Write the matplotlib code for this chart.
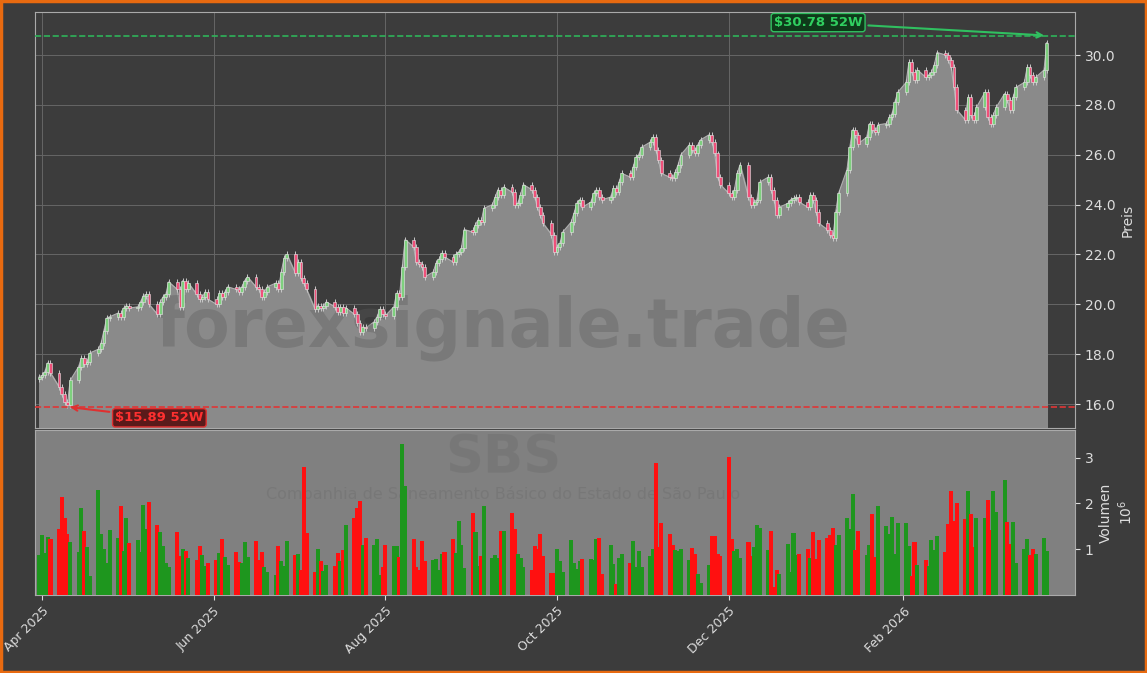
import numpy as np
import pandas as pd
import matplotlib
matplotlib.use("Agg")
import matplotlib.pyplot as plt
import matplotlib.dates as mdates

closes = [
 17.1,17.15,17.3,17.65,17.25,16.7,16.4,16.1,15.95,16.95,17.5,17.85,17.6,17.7,18.05,18.2,18.45,18.95,19.45,19.5,19.65,19.5,19.85,
 19.95,19.85,19.9,20.1,20.35,20.4,20.0,19.6,20.1,20.3,20.4,20.9,20.6,19.9,20.95,20.6,20.85,20.4,20.2,20.3,20.5,
 20.2,20.0,20.45,20.3,20.5,20.7,20.6,20.5,20.7,20.95,21.1,20.7,20.6,20.3,20.5,20.7,20.85,20.6,21.3,21.85,22.0,
 21.25,21.7,21.05,20.85,20.6,19.8,19.95,19.85,19.95,20.1,19.9,19.7,19.9,19.65,19.85,19.6,19.25,18.9,19.1,19.05,19.3,19.5,
 19.8,19.6,19.55,19.9,20.45,20.3,21.5,22.6,22.3,21.7,21.6,21.5,21.1,21.3,21.65,21.8,22.05,21.9,21.7,22.0,22.1,
 22.25,23.0,22.9,23.2,23.4,23.3,23.85,24.0,24.3,24.6,24.4,24.7,24.5,24.0,24.05,24.4,24.8,24.6,24.3,23.9,23.6,23.25,
 22.8,22.1,22.3,22.45,22.9,23.3,23.65,24.05,24.2,23.9,24.1,24.45,24.6,24.3,24.2,24.3,24.65,24.5,24.9,25.25,25.1,25.5,
 25.9,26.0,26.3,26.5,26.7,26.2,25.8,25.25,25.1,25.05,25.3,25.6,26.0,26.4,26.2,26.05,26.4,26.6,26.8,26.5,
 26.05,25.1,24.8,24.45,24.3,24.6,25.25,25.6,24.3,24.0,24.1,24.2,24.9,25.1,24.6,24.2,23.6,23.9,24.05,24.2,24.25,24.3,
 24.1,23.9,24.4,24.2,23.7,23.25,23.0,22.8,22.65,23.7,24.45,25.4,26.3,27.0,26.8,26.45,26.7,27.25,27.0,26.9,27.2,
 27.25,27.5,27.65,28.1,28.5,28.9,29.7,29.3,29.0,29.4,29.1,29.2,29.3,29.6,30.1,30.0,29.8,29.5,28.7,27.8,
 27.4,28.3,27.6,27.4,27.9,28.5,27.5,27.25,27.6,27.9,28.45,28.2,27.8,28.3,28.7,28.9,29.5,29.2,28.9,29.1,29.4,30.5,
]
volumes = [
 0.87,1.30,0.91,1.27,1.23,1.44,2.14,1.67,1.34,1.16,0.94,1.89,1.39,1.05,0.42,2.30,1.34,1.01,0.70,1.41,1.25,1.94,0.96,1.69,1.14,
 1.20,0.94,1.96,1.44,2.03,1.52,1.38,1.07,0.69,0.62,1.38,0.85,1.01,0.96,0.80,0.76,1.07,0.87,0.63,0.70,0.76,0.92,1.23,0.83,0.65,
 0.94,0.72,0.69,1.16,0.83,1.17,0.76,0.94,0.62,0.51,0.44,1.07,0.75,0.63,1.17,0.87,0.89,0.54,2.80,1.36,0.51,1.01,0.75,0.53,0.65,
 0.63,0.91,0.75,0.98,1.52,1.67,1.89,2.04,1.09,1.25,
 1.09,1.23,0.44,0.62,1.09,1.07,1.07,0.83,3.30,2.37,1.23,0.62,0.54,1.17,0.74,0.76,0.78,0.54,0.89,0.93,1.23,0.91,1.62,1.09,0.58,
 1.78,1.38,0.63,0.85,1.94,0.80,0.87,0.81,1.39,1.39,1.79,1.45,0.89,0.80,0.62,0.54,1.07,1.01,1.33,0.85,0.47,0.47,1.01,0.75,0.51,
 1.21,0.69,0.56,0.74,0.78,0.78,0.76,1.23,1.25,0.46,1.09,0.67,0.24,0.80,0.89,0.70,1.17,0.62,0.96,0.62,0.85,1.01,2.88,1.05,1.57,
 1.34,1.09,0.99,0.96,1.01,0.76,1.03,0.89,0.46,0.26,0.65,1.28,
 1.28,0.89,0.85,3.01,1.22,0.96,1.00,0.81,1.15,0.85,1.05,1.52,1.46,0.98,1.39,0.18,0.54,0.46,1.11,0.51,1.36,0.87,0.89,1.00,0.80,
 1.38,0.78,1.20,1.25,1.30,1.46,1.09,1.30,1.69,1.44,2.20,0.98,1.39,0.87,1.10,1.76,0.83,1.94,1.50,1.33,1.70,0.89,1.56,1.56,1.07,
 0.41,1.15,0.65,0.76,0.63,1.21,0.99,1.28,0.94,1.54,2.26,1.62,2.01,1.65,2.28,1.76,1.04,1.67,1.69,2.07,1.41,2.26,1.81,2.52,1.59,
 1.11,1.59,0.69,1.00,1.22,0.87,1.0,0.9,1.25,0.95,
]
first_open = 17.0
low_52w = 15.89
high_52w = 30.78
month_ticks = ["2025-04-01", "2025-06-01", "2025-08-01", "2025-10-01", "2025-12-01", "2026-02-01"]

n = min(len(closes), len(volumes))
closes = np.array(closes[:n]); volumes = np.array(volumes[:n])
dates = pd.bdate_range("2025-03-31", periods=n)
x = mdates.date2num(dates)
opens = np.concatenate([[first_open], closes[:-1]])
up = closes >= opens

BG = "#3c3c3c"
fig = plt.figure(figsize=(11.47, 6.73), dpi=100, facecolor=BG)
fig.patches.append(plt.Rectangle((0.001, 0.001), 0.998, 0.998, transform=fig.transFigure,
                                 fill=False, edgecolor="#e86a10", linewidth=2.5))
ax = fig.add_axes([0.0305, 0.364, 0.9067, 0.618], facecolor=BG)
axv = fig.add_axes([0.0305, 0.116, 0.9067, 0.245], facecolor="#808080", sharex=ax)

ymin = 15.04
ax.fill_between(x, closes, ymin, color="#8a8a8a", zorder=1)
ax.plot(x, closes, color="#b0b0b0", lw=0.8, zorder=2)
w = 1.0
for xi, o, c, u in zip(x, opens, closes, up):
    col = "#7ed07e" if u else "#f0507a"
    lo, hi = min(o, c), max(o, c)
    ax.vlines(xi, lo - 0.12, hi + 0.12, color="#c8c8c8", lw=0.7, zorder=3)
    ax.bar(xi, max(hi - lo, 0.04), bottom=lo, width=w, color=col, edgecolor="#e8e8e8",
           linewidth=0.4, zorder=4)

ax.axhline(low_52w, color="#e03535", ls="--", lw=1.2, zorder=5)
ax.axhline(high_52w, color="#2eb35a", ls="--", lw=1.2, zorder=5)
imin = int(np.argmin(closes)); imax = n - 1
ax.annotate(f"${low_52w:.2f} 52W", xy=(x[imin], low_52w), xytext=(x[imin] + 17, 15.45),
            color="#ff3030", fontsize=9.5, fontweight="bold", va="center",
            bbox=dict(boxstyle="round,pad=0.2", fc="#5a1a1a", ec="#e03030"),
            arrowprops=dict(arrowstyle="->", color="#e03030", lw=1.5), zorder=6)
ax.annotate(f"${high_52w:.2f} 52W", xy=(x[imax], high_52w), xytext=(x[imax] - 97, 31.3),
            color="#30d060", fontsize=9.5, fontweight="bold", va="center",
            bbox=dict(boxstyle="round,pad=0.2", fc="#0f3a1a", ec="#30c060"),
            arrowprops=dict(arrowstyle="->", color="#30c060", lw=1.5), zorder=6)

ax.text(0.45, 0.24, "forexsignale.trade", transform=ax.transAxes, fontsize=48, fontweight="bold",
        color="#5a5a5a", alpha=0.35, ha="center", va="center", zorder=2)
axv.text(0.45, 0.83, "SBS", transform=axv.transAxes, fontsize=38, fontweight="bold",
         color="#707070", alpha=0.5, ha="center", va="center", zorder=1)
axv.text(0.45, 0.61, "Companhia de Saneamento Básico do Estado de São Paulo", transform=axv.transAxes,
         fontsize=11.5, color="#707070", alpha=0.5, ha="center", va="center", zorder=1)

ax.set_ylim(ymin, 31.72)
ax.set_xlim(x[0] - 1.5, x[-1] + 10)
ax.yaxis.tick_right(); ax.yaxis.set_label_position("right")
ax.set_yticks(np.arange(16, 31, 2))
ax.yaxis.set_major_formatter(matplotlib.ticker.FormatStrFormatter("%.1f"))
ax.set_ylabel("Preis", color="#dddddd", fontsize=10)
ax.tick_params(colors="#dddddd", labelbottom=False, bottom=False, labelsize=10)
ax.grid(True, color="#666666", lw=0.7)
ax.set_axisbelow(True)

vcol = np.where(up, "#1e961e", "#ff1010")
axv.bar(x, volumes, width=1.45, color=vcol, zorder=3)
axv.set_ylim(0, 3.6)
axv.yaxis.tick_right(); axv.yaxis.set_label_position("right")
axv.set_yticks([1, 2, 3])
axv.set_ylabel("Volumen\n$10^6$", color="#dddddd", fontsize=10)
axv.tick_params(colors="#dddddd", labelsize=10)
axv.tick_params(axis="x", labelsize=9)
axv.set_xticks(mdates.date2num(pd.to_datetime(month_ticks)))
axv.xaxis.set_major_formatter(mdates.DateFormatter("%b %Y"))
plt.setp(axv.get_xticklabels(), rotation=45, ha="right", rotation_mode="anchor")
for a in (ax, axv):
    for s in a.spines.values():
        s.set_color("#aaaaaa")
fig.savefig("out.png", dpi=100, facecolor=BG)
